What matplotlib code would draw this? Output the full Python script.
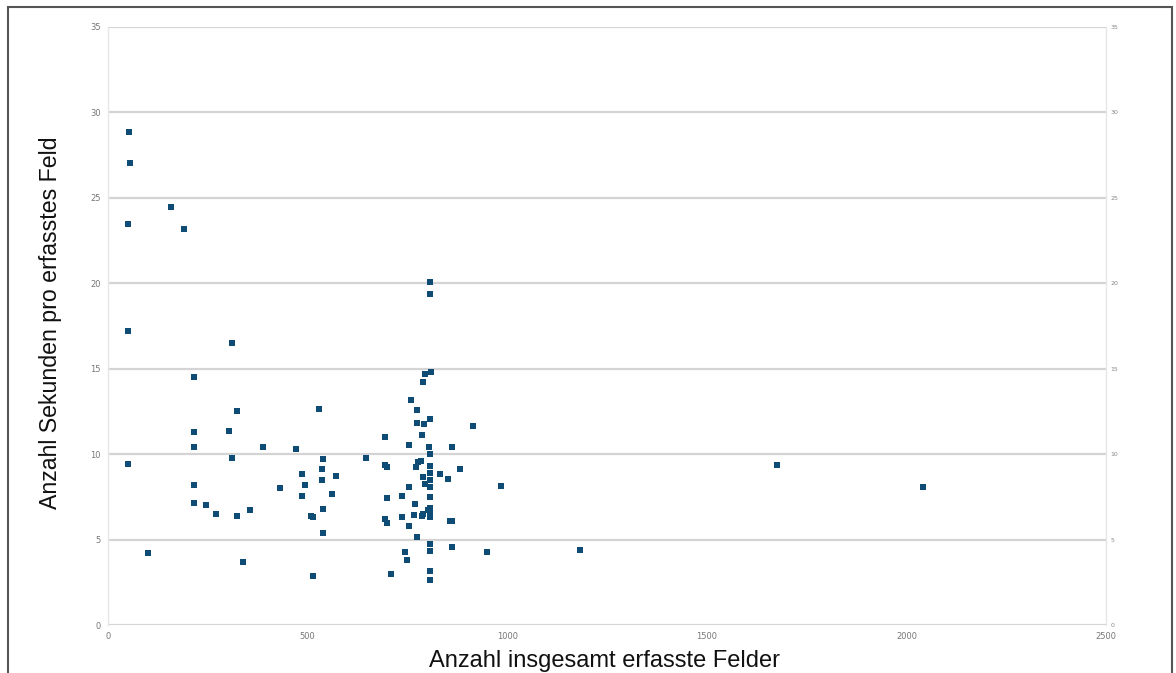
import matplotlib.pyplot as plt
from matplotlib.patches import Rectangle

# Anzahl insgesamt erfasste Felder
felder = [53, 55, 49, 157, 190, 49, 50, 100, 311,
          215, 324, 528, 215, 304, 215, 388, 471, 695, 311,
          539, 647, 693, 698, 486, 537, 572, 215, 494, 431,
          537, 486, 562, 699, 215, 245, 270, 324, 356, 539,
          509, 514, 695, 699, 539, 338, 514, 708,
          790, 760, 775, 775, 792, 807, 786, 915, 754, 805,
          861, 807, 783, 777, 772, 807, 882, 807, 832, 788,
          851, 807, 795, 807, 984, 753, 736, 807, 768, 807,
          802, 807, 767, 787, 790, 807, 736, 857, 861, 753,
          775, 807, 807, 861, 949, 1183, 744, 750, 807, 807,
          807, 807, 795, 810, 1676, 2042]
# Anzahl Sekunden pro erfasstes Feld
sekunden = [28.84, 27.02, 23.45, 24.48, 23.2, 17.23, 9.4, 4.2, 16.49,
            14.5, 12.54, 12.64, 11.31, 11.37, 10.42, 10.42, 10.28, 11.02, 9.79,
            9.70, 9.77, 9.36, 9.23, 8.82, 9.11, 8.72, 8.18, 8.18, 8.04,
            8.49, 7.57, 7.65, 7.43, 7.16, 7.02, 6.48, 6.40, 6.71, 6.77,
            6.40, 6.32, 6.19, 5.99, 5.37, 3.67, 2.87, 3.0,
            14.24, 13.17, 12.58, 11.84, 11.78, 12.04, 11.12, 11.65, 10.53, 10.40,
            10.42, 9.99, 9.62, 9.52, 9.27, 9.31, 9.11, 8.88, 8.84, 8.68,
            8.53, 8.49, 8.23, 8.10, 8.16, 8.06, 7.57, 7.51, 7.06, 6.87,
            6.73, 6.63, 6.44, 6.40, 6.48, 6.34, 6.34, 6.10, 6.10, 5.79,
            5.17, 4.76, 4.33, 4.57, 4.27, 4.41, 4.25, 3.82, 3.16, 2.63,
            20.1, 19.4, 14.7, 14.8, 9.36, 8.08]

x_ticks = [0, 500, 1000, 1500, 2000, 2500]
y_ticks = [0, 5, 10, 15, 20, 25, 30, 35]

fig = plt.figure(figsize=(11.76, 6.73), dpi=100)
ax = fig.add_axes([0.0918, 0.0713, 0.8487, 0.8886])

ax.scatter(felder, sekunden, marker='s', s=18, color='#0f4c75',
           linewidths=0, zorder=3)

ax.set_xlim(0, 2500)
ax.set_ylim(0, 35)
ax.set_xticks(x_ticks)
ax.set_yticks(y_ticks)
ax.grid(axis='y', color='#d4d4d4', linewidth=1.6)
ax.set_axisbelow(True)
for side in ['top', 'bottom']:
    ax.spines[side].set_visible(False)
for side in ['left', 'right']:
    ax.spines[side].set_color('#e6e6e6')
    ax.spines[side].set_linewidth(1.0)
ax.tick_params(length=0, labelsize=6, labelcolor='#777777', pad=5)

# right-hand labels
ax2 = ax.twinx()
ax2.set_ylim(0, 35)
ax2.set_yticks(y_ticks)
ax2.tick_params(length=0, labelsize=4.5, labelcolor='#888888', pad=3)
for side in ax2.spines:
    ax2.spines[side].set_visible(False)

lab_font = 'Liberation Sans'
fig.text(0.514, 0.009, 'Anzahl insgesamt erfasste Felder', ha='center',
         va='baseline', fontsize=17, family=lab_font, color='#111111')
fig.text(0.043, 0.52, 'Anzahl Sekunden pro erfasstes Feld', ha='center',
         va='center', rotation=90, fontsize=16.7, family=lab_font,
         color='#111111')

# outer frame, bottom edge runs off the picture
fig.patches.append(Rectangle((0.007, -0.05), 0.99, 1.04,
                             transform=fig.transFigure, fill=False,
                             edgecolor='#555555', linewidth=1.5))

fig.savefig('out.png', dpi=100)
